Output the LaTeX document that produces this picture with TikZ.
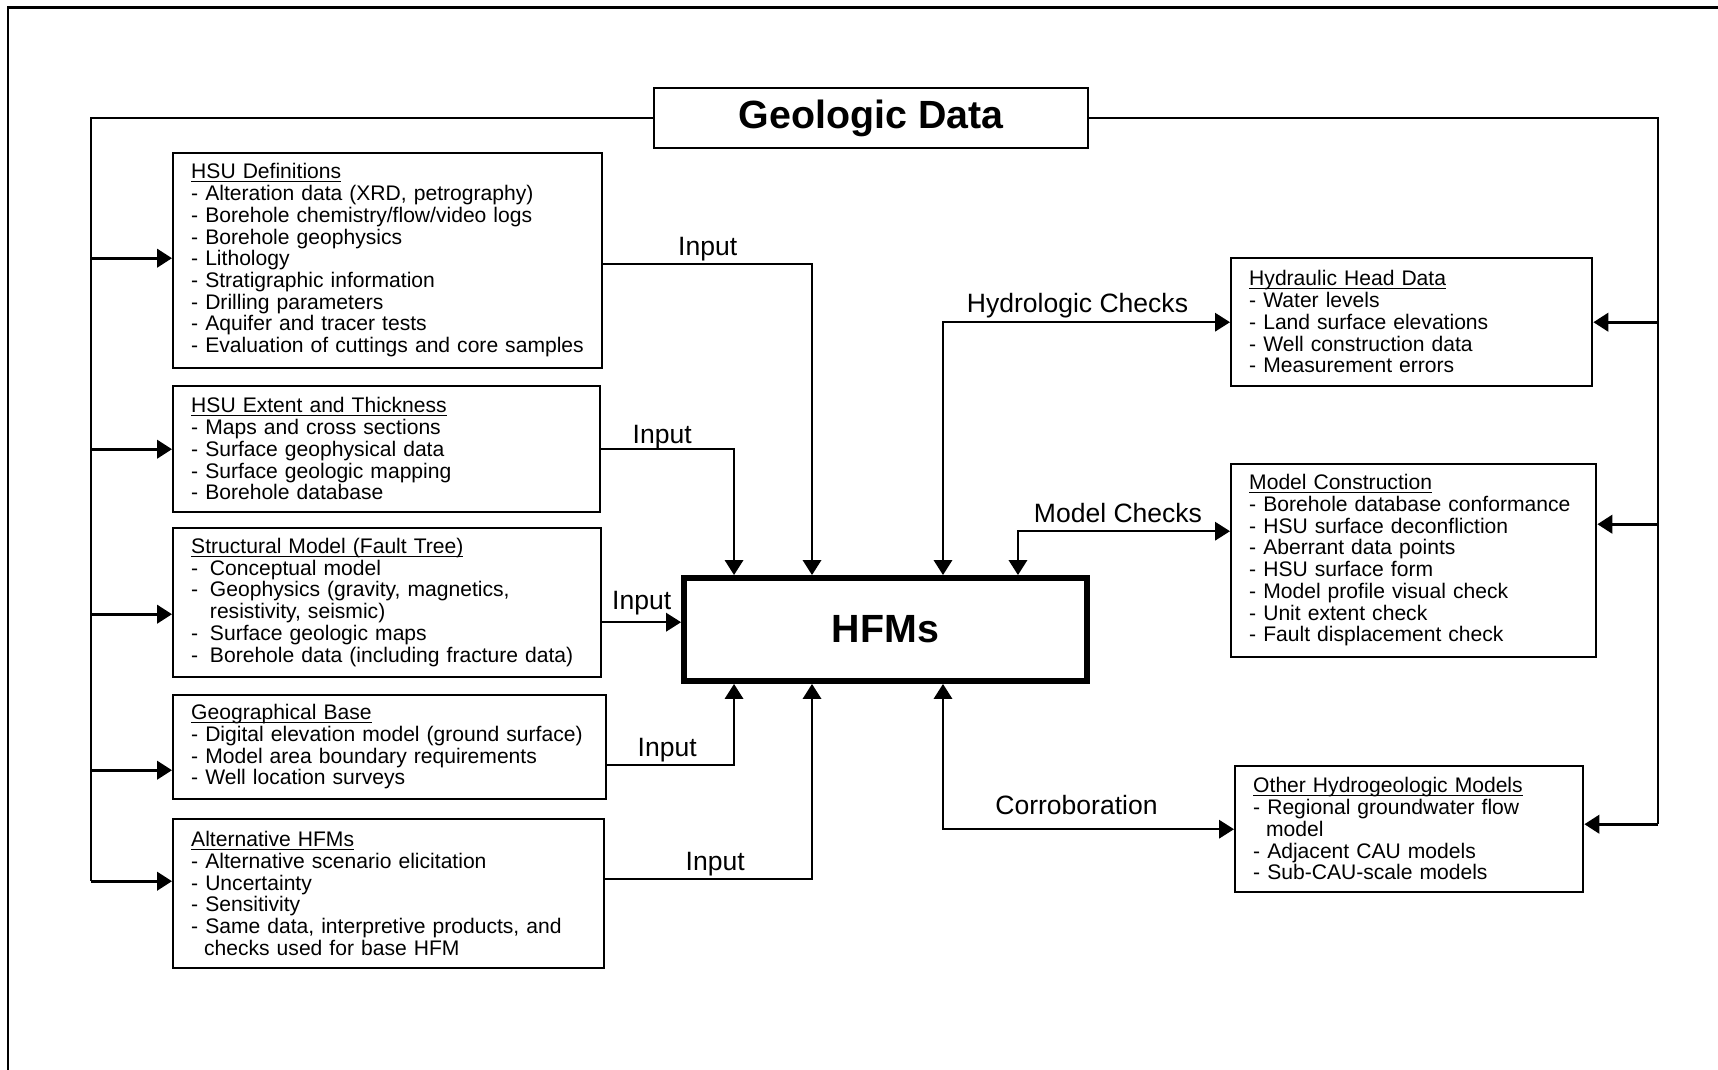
\documentclass[tikz,border=0pt]{standalone}
\usepackage{fontspec}
\setsansfont{Liberation Sans}
\usepackage{tikz}
\usetikzlibrary{arrows.meta, calc}

\newcommand{\boxhead}[1]{\underline{\smash{#1}}\vphantom{H}}
\newcommand{\contline}{\hspace*{0.611em}}
\newcommand{\wideitem}{\makebox[0.89em][l]{-}}

\begin{document}
\begin{tikzpicture}[
        x=0.02cm, y=-0.02cm,
        box/.style={rectangle, draw, line width=1.4pt, align=left, anchor=north west, inner xsep=0.36cm, inner ysep=0pt, font=\sffamily\fontsize{12}{12.35}\selectfont},
        headbox/.style={rectangle, draw, align=center, inner sep=0pt, font=\sffamily\bfseries\fontsize{22.4}{26}\selectfont},
        lbl/.style={anchor=base, yshift=0.17cm, font=\sffamily\fontsize{15.1}{18}\selectfont},
        bus/.style={line width=1.5pt},
        arrow/.style={-{Triangle[length=0.3cm, width=0.37cm]}, line width=1.1pt},
        twoway/.style={{Triangle[length=0.3cm, width=0.37cm]}-{Triangle[length=0.3cm, width=0.37cm]}, line width=1.1pt}
    ]
    \useasboundingbox (0,0) rectangle (1718,1070);
    
    % Frame
    \draw[line width=1.7pt] (8,1070) -- (8,8) -- (1718,8);
    
    % Main boxes
    \node[headbox, minimum width=8.68cm, minimum height=1.2cm, line width=1.4pt] (geodata) at (871,118) {Geologic Data};
    \node[headbox, minimum width=8.06cm, minimum height=2.06cm, line width=3.4pt] (hfm) at (885.5,629.5) {HFMs};
    
    % Data boxes (left)
    \node[box, text width=7.86cm, minimum height=4.3cm] (hsudef) at (172,152) {\boxhead{HSU Definitions}\\- Alteration data (XRD, petrography)\\- Borehole chemistry/flow/video logs\\- Borehole geophysics\\- Lithology\\- Stratigraphic information\\- Drilling parameters\\- Aquifer and tracer tests\\- Evaluation of cuttings and core samples};
    \node[box, text width=7.82cm, minimum height=2.52cm] (hsuext) at (172,385) {\boxhead{HSU Extent and Thickness}\\- Maps and cross sections\\- Surface geophysical data\\- Surface geologic mapping\\- Borehole database};
    \node[box, text width=7.84cm, minimum height=2.98cm] (struct) at (172,527) {\boxhead{Structural Model (Fault Tree)}\\\wideitem Conceptual model\\\wideitem Geophysics (gravity, magnetics,\\\hspace*{0.89em}resistivity, seismic)\\\wideitem Surface geologic maps\\\wideitem Borehole data (including fracture data)};
    \node[box, text width=7.94cm, minimum height=2.08cm] (geobase) at (172,694) {\boxhead{Geographical Base}\\- Digital elevation model (ground surface)\\- Model area boundary requirements\\- Well location surveys};
    \node[box, text width=7.90cm, minimum height=2.98cm] (althfm) at (172,818) {\boxhead{Alternative HFMs}\\- Alternative scenario elicitation\\- Uncertainty\\- Sensitivity\\- Same data, interpretive products, and\\\contline checks used for base HFM};
    
    % Check boxes (right)
    \node[box, text width=6.50cm, minimum height=2.56cm] (hyd) at (1230,257) {\boxhead{Hydraulic Head Data}\\- Water levels\\- Land surface elevations\\- Well construction data\\- Measurement errors};
    \node[box, text width=6.58cm, minimum height=3.86cm] (model) at (1230,463) {\boxhead{Model Construction}\\- Borehole database conformance\\- HSU surface deconfliction\\- Aberrant data points\\- HSU surface form\\- Model profile visual check\\- Unit extent check\\- Fault displacement check};
    \node[box, text width=6.24cm, minimum height=2.52cm] (other) at (1234,765) {\boxhead{Other Hydrogeologic Models}\\- Regional groundwater flow\\\contline model\\- Adjacent CAU models\\- Sub-CAU-scale models};
    
    % Connector points
    \coordinate (lbus) at (91,0);
    \coordinate (rbus) at (1658,0);
    \coordinate (hsudef_in) at ([yshift=0.05cm]hsudef.west);
    \coordinate (struct_in) at ([yshift=-0.23cm]struct.west);
    \coordinate (geobase_in) at ([yshift=-0.46cm]geobase.west);
    \coordinate (althfm_in) at ([yshift=0.25cm]althfm.west);
    \coordinate (model_in) at ([yshift=0.73cm]model.east);
    \coordinate (other_in) at ([yshift=0.10cm]other.east);
    \coordinate (hsudef_out) at ([yshift=-0.07cm]hsudef.east);
    \coordinate (struct_out) at ([yshift=-0.39cm]struct.east);
    \coordinate (geobase_out) at ([yshift=-0.36cm]geobase.east);
    \coordinate (althfm_out) at ([yshift=0.29cm]althfm.east);
    \coordinate (model_chk) at ([yshift=0.59cm]model.west);
    \coordinate (hfm_top_a) at ([xshift=-3.03cm]hfm.north);
    \coordinate (hfm_top_b) at ([xshift=-1.47cm]hfm.north);
    \coordinate (hfm_top_c) at ([xshift=1.15cm]hfm.north);
    \coordinate (hfm_top_d) at ([xshift=2.65cm]hfm.north);
    \coordinate (hfm_bot_a) at ([xshift=-3.03cm]hfm.south);
    \coordinate (hfm_bot_b) at ([xshift=-1.47cm]hfm.south);
    \coordinate (hfm_bot_c) at ([xshift=1.15cm]hfm.south);
    
    % Geologic data buses
    \draw[bus] (geodata.west) -| (althfm_in -| lbus);
    \draw[bus] (geodata.east) -| (other_in -| rbus);
    \foreach \b in {hsudef_in, hsuext.west, struct_in, geobase_in, althfm_in}
        \draw[arrow, bus] (\b -| lbus) -- (\b);
    \foreach \b in {hyd.east, model_in, other_in}
        \draw[arrow, bus] (\b -| rbus) -- (\b);
    
    % Inputs
    \draw[arrow] (hsudef_out) -| node[lbl, pos=0.25] {Input} (hfm_top_b);
    \draw[arrow] (hsuext.east) -| node[lbl, pos=0.25, xshift=-0.11cm, yshift=-0.05cm] {Input} (hfm_top_a);
    \draw[arrow] (struct_out) -- node[lbl, yshift=0.09cm] {Input} (struct_out -| hfm.west);
    \draw[arrow] (geobase_out) -| node[lbl, pos=0.25, xshift=-0.07cm] {Input} (hfm_bot_a);
    \draw[arrow] (althfm_out) -| node[lbl, pos=0.25, xshift=0.13cm] {Input} (hfm_bot_b);
    
    % Checks
    \draw[twoway] (hfm_top_c) |- node[lbl, pos=0.75, xshift=-0.18cm, yshift=0.03cm] {Hydrologic Checks} (hyd.west);
    \draw[twoway] (hfm_top_d) |- node[lbl, pos=0.75, xshift=-0.12cm] {Model Checks} (model_chk);
    \draw[twoway] (hfm_bot_c) |- node[lbl, pos=0.75, xshift=-0.24cm, yshift=0.13cm] {Corroboration} (other.west);
    
\end{tikzpicture}
\end{document}
